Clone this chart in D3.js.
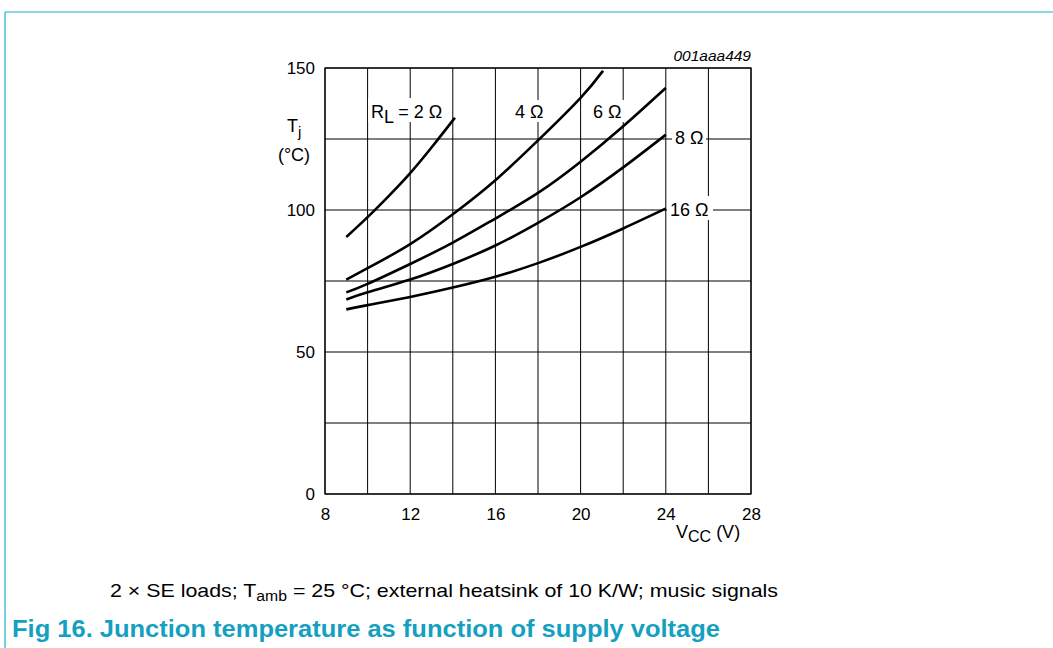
<!DOCTYPE html>
<html>
<head>
<meta charset="utf-8">
<script src="https://cdn.jsdelivr.net/npm/d3@7"></script>
<style>
  body { margin: 0; background: #fff; }
  svg { display: block; font-family: "Liberation Sans", Arial, sans-serif; }
</style>
</head>
<body>
<svg id="chart" width="1053" height="648"></svg>
<script>
// supply voltage (V) and junction temperature (°C) per load
const vcc2 = [9, 10, 11, 12, 13, 14.1];
const tj2 = [90.5, 97.5, 105, 113, 122, 132.5];

const vcc4 = [9, 10, 12, 14, 16, 18, 20, 21.05];
const tj4 = [75.5, 79.5, 88, 98.5, 110.5, 124.5, 139.5, 149];

const vcc6 = [9, 10, 12, 14, 16, 18, 20, 22, 24];
const tj6 = [71, 74, 81, 88.5, 97, 106, 117, 129.5, 143];

const vcc8 = [9, 10, 12, 14, 16, 18, 20, 22, 24];
const tj8 = [68.5, 71, 75.5, 81, 87.5, 95.5, 104.5, 115, 126.5];

const vcc16 = [9, 10, 12, 14, 16, 18, 20, 22, 24];
const tj16 = [65, 66.5, 69.4, 72.7, 76.5, 81.3, 87, 93.5, 100.5];

const xTicks = [8, 12, 16, 20, 24, 28];
const yTicks = [0, 50, 100, 150];

const svg = d3.select("#chart");

const margin = { left: 325, right: 302, top: 68, bottom: 154 };
const width = 1053 - margin.left - margin.right;
const height = 648 - margin.top - margin.bottom;

const x = d3.scaleLinear().domain([8, 28]).range([0, width]);
const y = d3.scaleLinear().domain([0, 150]).range([height, 0]);

// page frame
svg.append("line").attr("x1", 5).attr("x2", 1053).attr("y1", 12).attr("y2", 12)
  .style("stroke", "#12b2ca").style("stroke-width", 1.2);
svg.append("line").attr("x1", 5).attr("x2", 5).attr("y1", 12).attr("y2", 648)
  .style("stroke", "#12b2ca").style("stroke-width", 1.2);

const g = svg.append("g").attr("transform", `translate(${margin.left},${margin.top})`);

// grid
g.selectAll(".vgrid")
  .data(d3.range(8, 28.1, 2))
  .enter()
  .append("line")
  .attr("x1", d => x(d)).attr("x2", d => x(d))
  .attr("y1", 0).attr("y2", height)
  .style("stroke", "#000").style("stroke-width", 1);

g.selectAll(".hgrid")
  .data(d3.range(0, 150.1, 25))
  .enter()
  .append("line")
  .attr("x1", 0).attr("x2", width)
  .attr("y1", d => y(d)).attr("y2", d => y(d))
  .style("stroke", "#000").style("stroke-width", 1);

g.append("rect").attr("width", width).attr("height", height)
  .style("fill", "none").style("stroke", "#000").style("stroke-width", 1.2);

// axes
const xAxis = d3.axisBottom(x).tickValues(xTicks).tickSize(0).tickPadding(14);
g.append("g").attr("transform", `translate(0,${height})`).call(xAxis)
  .call(a => a.select(".domain").remove())
  .selectAll("text").style("font-size", "17px").style("fill", "#000")
  .style("font-family", "Liberation Sans, Arial, sans-serif");

const yAxis = d3.axisLeft(y).tickValues(yTicks).tickSize(0).tickPadding(10);
g.append("g").call(yAxis)
  .call(a => a.select(".domain").remove())
  .selectAll("text").style("font-size", "17px").style("fill", "#000")
  .style("font-family", "Liberation Sans, Arial, sans-serif");

// curves
const series = [
  { v: vcc2, t: tj2 },
  { v: vcc4, t: tj4 },
  { v: vcc6, t: tj6 },
  { v: vcc8, t: tj8 },
  { v: vcc16, t: tj16 }
];

const line = d3.line()
  .x(d => x(d[0]))
  .y(d => y(d[1]))
  .curve(d3.curveNatural);

g.selectAll(".curve")
  .data(series)
  .enter()
  .append("path")
  .attr("d", s => line(s.v.map((v, i) => [v, s.t[i]])))
  .style("fill", "none")
  .style("stroke", "#000")
  .style("stroke-width", 2.6);

// curve labels with white backing
function label(px, py, build, boxW, boxH) {
  g.append("rect").attr("x", px - 3).attr("y", py - boxH + 4)
    .attr("width", boxW).attr("height", boxH).style("fill", "#fff");
  const t = g.append("text").attr("x", px).attr("y", py)
    .style("font-size", "18px").style("fill", "#000");
  build(t);
}

label(371 - margin.left, 118 - margin.top, t => {
  t.append("tspan").text("R");
  t.append("tspan").attr("dy", 5).text("L");
  t.append("tspan").attr("dy", -5).text(" = 2 Ω");
}, 80, 24);
label(515 - margin.left, 118 - margin.top, t => t.text("4 Ω"), 35, 22);
label(593 - margin.left, 118 - margin.top, t => t.text("6 Ω"), 34, 22);
label(675 - margin.left, 144 - margin.top, t => t.text("8 Ω"), 34, 22);
label(670 - margin.left, 216 - margin.top, t => t.text("16 Ω"), 46, 24);

// axis titles
const tj = svg.append("text").attr("x", 287).attr("y", 132)
  .style("font-size", "18px").style("fill", "#000");
tj.append("tspan").text("T");
tj.append("tspan").attr("dy", 5).style("font-size", "15px").text("j");
svg.append("text").attr("x", 294).attr("y", 161).attr("text-anchor", "middle")
  .style("font-size", "18px").text("(°C)");

const vt = svg.append("text").attr("x", 676).attr("y", 538)
  .style("font-size", "18px").style("fill", "#000");
vt.append("tspan").text("V");
vt.append("tspan").attr("dy", 4).style("font-size", "16px").text("CC");
vt.append("tspan").attr("dy", -4).text(" (V)");

svg.append("text").attr("x", 751).attr("y", 61).attr("text-anchor", "end")
  .style("font-size", "15.5px").style("font-style", "italic").text("001aaa449");

// caption and title
const cap = svg.append("text").attr("x", 110).attr("y", 597)
  .attr("textLength", 668).attr("lengthAdjust", "spacingAndGlyphs")
  .style("font-size", "19px").style("fill", "#000");
cap.append("tspan").text("2 × SE loads; T");
cap.append("tspan").attr("dy", 4).style("font-size", "14px").text("amb");
cap.append("tspan").attr("dy", -4).text(" = 25 °C; external heatsink of 10 K/W; music signals");

svg.append("text").attr("x", 12).attr("y", 637)
  .attr("textLength", 708).attr("lengthAdjust", "spacingAndGlyphs")
  .style("font-size", "24px").style("font-weight", "bold").style("fill", "#159fc0")
  .text("Fig 16.  Junction temperature as function of supply voltage");
</script>
</body>
</html>
